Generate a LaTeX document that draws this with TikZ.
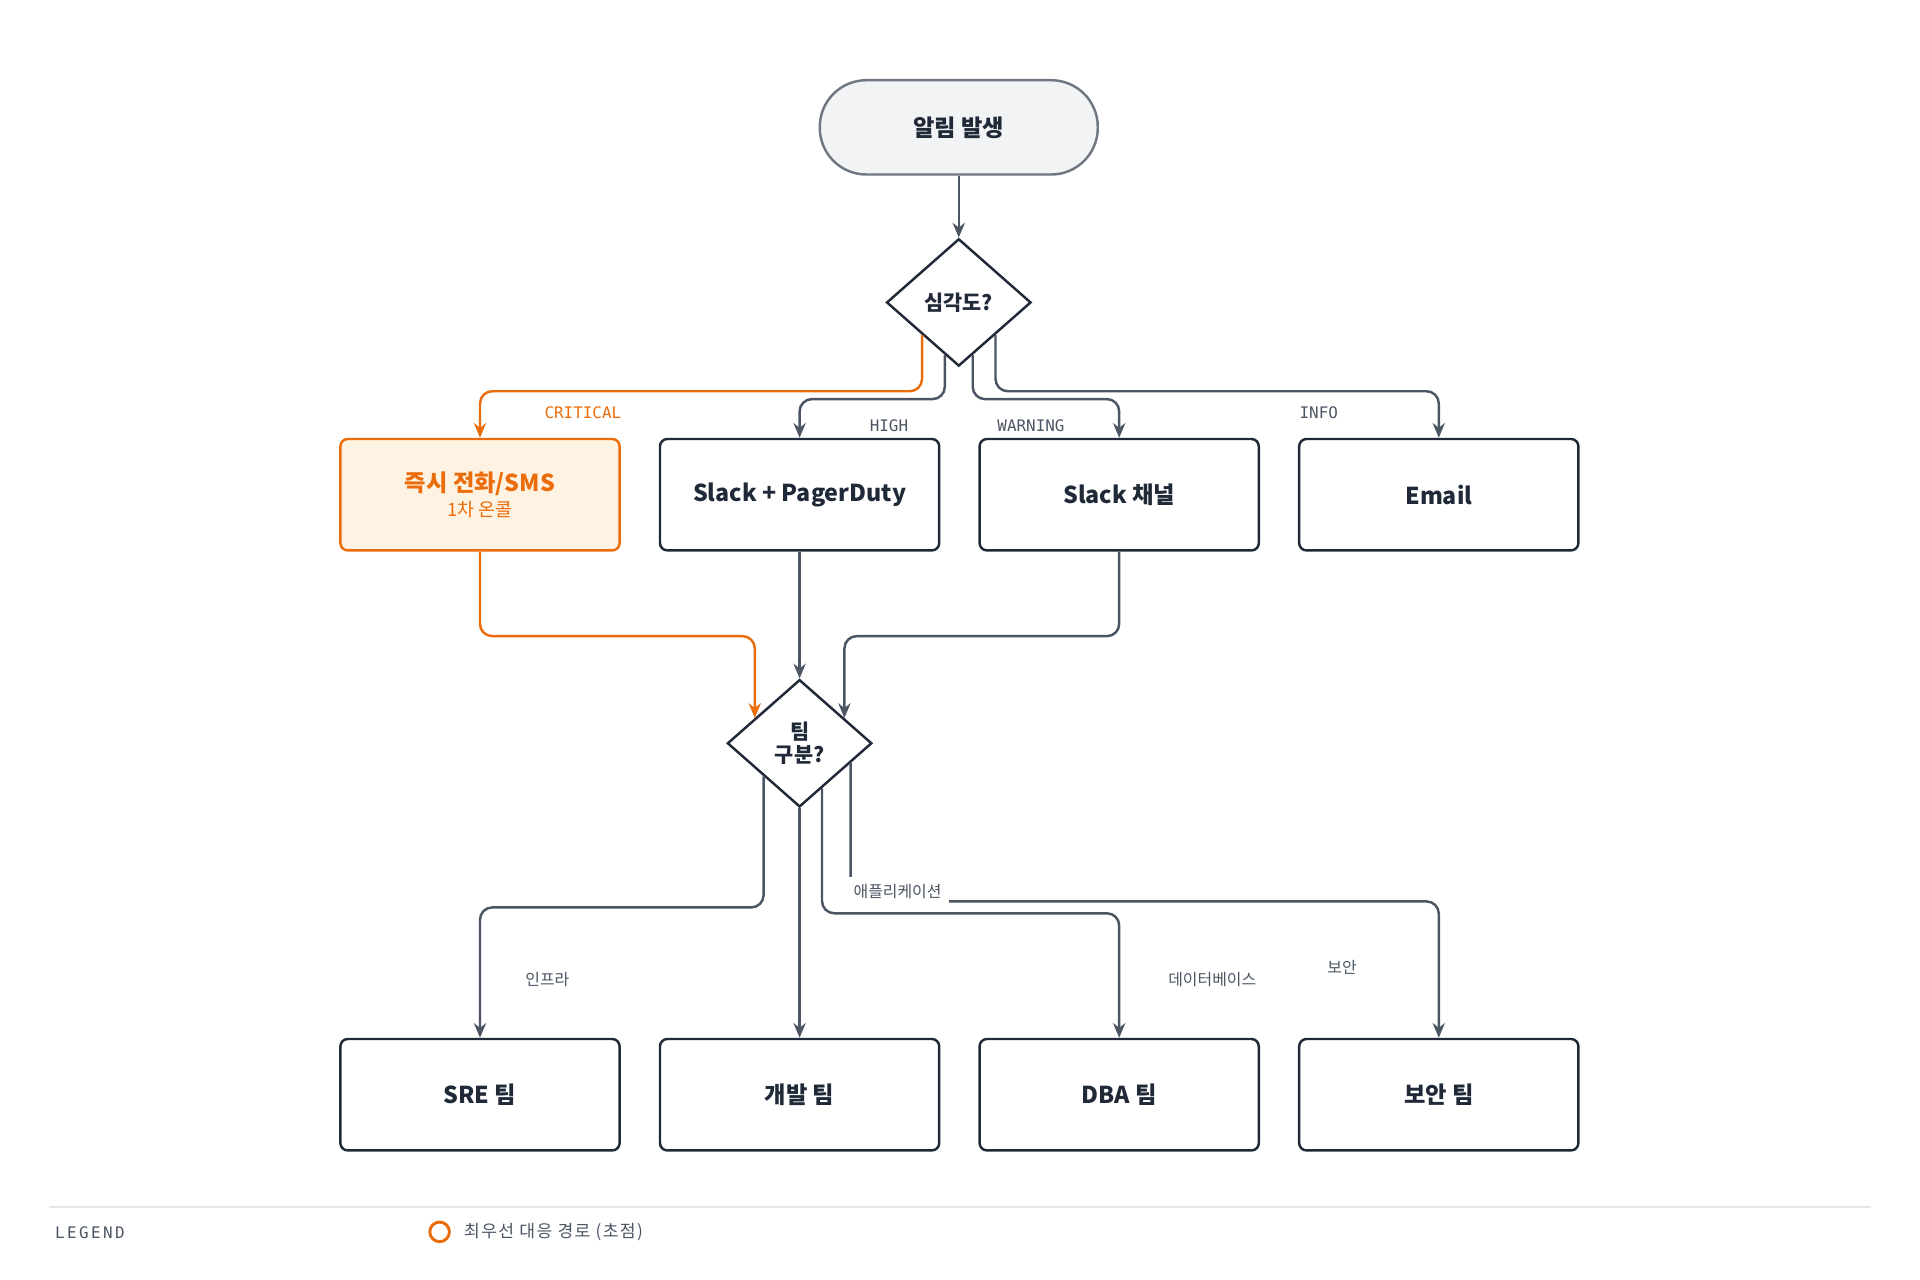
\documentclass[tikz,border=0pt]{standalone}
\usepackage{fontspec}
\setmainfont{Noto Sans CJK KR}
\newfontfamily\monof{DejaVu Sans Mono}
\usetikzlibrary{shapes.geometric,calc,arrows.meta}
\definecolor{dk}{HTML}{1F2937}
\definecolor{ln}{HTML}{4B5563}
\definecolor{org}{HTML}{EA6C0A}
\definecolor{orgf}{HTML}{FEF3E2}
\definecolor{stf}{HTML}{F2F3F4}
\begin{document}
\begin{tikzpicture}[x=0.5pt,y=-0.5pt,
 box/.style={draw=dk,line width=1pt,rounded corners=3pt,minimum width=114pt,minimum height=45.5pt,inner sep=0,font=\fontsize{9.5}{11}\selectfont\bfseries,text=dk},
 dia/.style={draw=dk,line width=1pt,diamond,minimum width=59pt,minimum height=52pt,inner sep=0,aspect=1.13,font=\fontsize{8.5}{9.5}\selectfont\bfseries,text=dk,align=center},
 con/.style={draw=ln,line width=1pt,rounded corners=5pt,-{Stealth[length=6pt,width=5pt]}},
 ocon/.style={con,draw=org},
 lab/.style={font=\monof\fontsize{6.5}{7}\selectfont,text=ln},
 klab/.style={font=\fontsize{6.5}{7}\selectfont,text=ln}]
\useasboundingbox (0,0) rectangle (1568,1045);
\node[draw=ln!80,fill=stf,line width=1pt,rounded corners=19pt,minimum width=113.5pt,minimum height=38.5pt,font=\fontsize{9.5}{11}\selectfont\bfseries,text=dk] (start) at (783,104) {알림 발생};
\node[dia] (d1) at (783,247) {심각도?};
\node[box,draw=org,fill=orgf,text=org,align=center] (crit) at (392,404) {즉시 전화/SMS\\[-1pt]{\fontsize{7.5}{9}\selectfont\mdseries 1차 온콜}};
\node[box] (hi) at (653,404) {Slack + PagerDuty};
\node[box] (sl) at (914,404) {Slack 채널};
\node[box] (em) at (1175,404) {Email};
\node[dia] (d2) at (653,607) {팀\\구분?};
\node[box] (sre) at (392,894) {SRE 팀};
\node[box] (dev) at (653,894) {개발 팀};
\node[box] (dba) at (914,894) {DBA 팀};
\node[box] (sec) at (1175,894) {보안 팀};
\draw[con] (start) -- (d1);
\draw[ocon] (d1.south west) -- ++(0,46) -| (crit.north);
\draw[con] ($(d1.south)!0.19!(d1.west)$) -- ++(0,36) -| (hi.north);
\draw[con] ($(d1.south)!0.19!(d1.east)$) -- ++(0,36) -| (sl.north);
\draw[con] (d1.south east) -- ++(0,46) -| (em.north);
\node[lab,text=org] (lc) at (476,337) {CRITICAL};
\node[lab] (lh) at (726,348) {HIGH};
\node[lab] (lw) at (842,348) {WARNING};
\node[lab] (li) at (1077,337) {INFO};
\draw[ocon] (crit.south) -- ++(0,69) -| ($(d2.north)!0.61!(d2.west)$);
\draw[con] (hi.south) -- (d2.north);
\draw[con] (sl.south) -- ++(0,69) -| ($(d2.north)!0.61!(d2.east)$);
\draw[con] ($(d2.south)!0.49!(d2.west)$) -- ++(0,107) -| (sre.north);
\draw[con] (d2.south) -- (dev.north);
\draw[con] ($(d2.south)!0.305!(d2.east)$) -- ++(0,102) -| (dba.north);
\draw[con] ($(d2.south)!0.695!(d2.east)$) -- ++(0,113) -| (sec.north);
\node[klab,fill=white,inner sep=3pt] (la) at (733,728) {애플리케이션};
\node[klab] (lin) at (447,800) {인프라};
\node[klab] (ldb) at (990,800) {데이터베이스};
\node[klab] (lsec) at (1096,790) {보안};
\draw[draw=black!10,line width=0.8pt] (40,986) -- (1528,986);
\node[lab,anchor=west,font=\monof\fontsize{6.5}{7}\selectfont\addfontfeature{LetterSpace=15}] (leg) at (38,1007) {LEGEND};
\node[draw=org,circle,line width=1.2pt,minimum size=8pt,inner sep=0] (lc2) at (359,1006) {};
\node[klab,anchor=west,font=\fontsize{7}{8}\selectfont\addfontfeature{LetterSpace=8}] (legt) at (372,1006) {최우선 대응 경로 (초점)};
\end{tikzpicture}
\end{document}
